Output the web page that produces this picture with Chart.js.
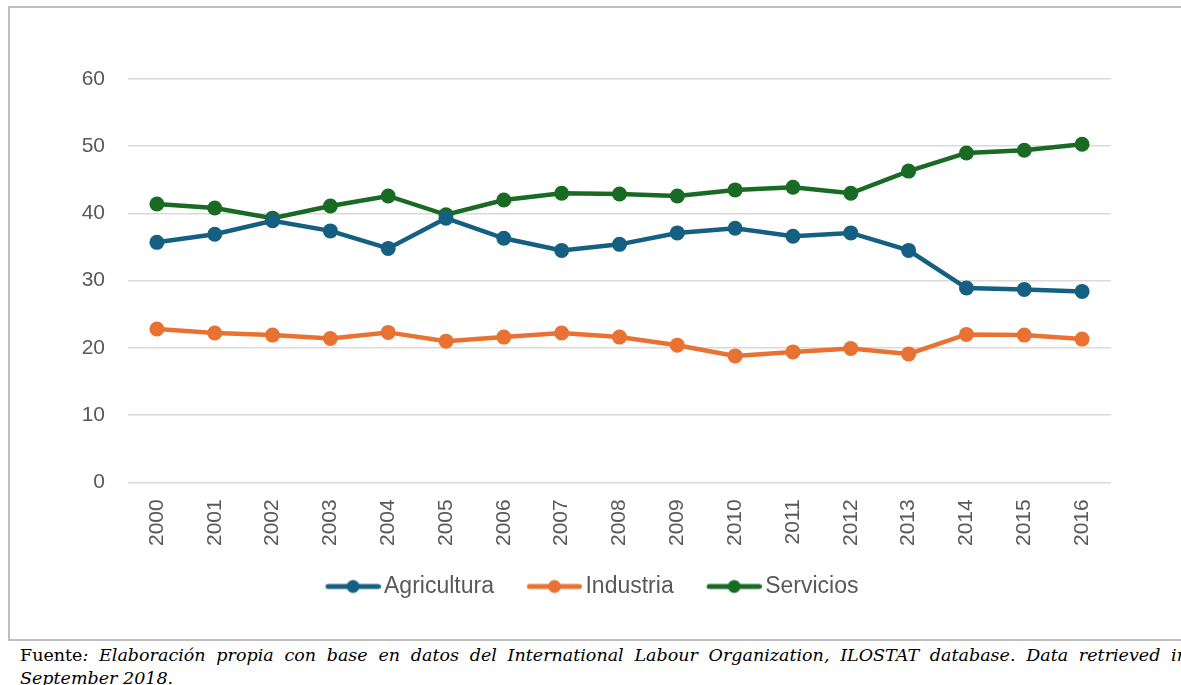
<!DOCTYPE html>
<html>
<head>
<meta charset="utf-8">
<script src="https://cdn.jsdelivr.net/npm/chart.js@4"></script>
<style>
  html, body { margin: 0; padding: 0; background: #fff; overflow: hidden; }
  body { width: 1181px; height: 685px; position: relative; }
  #frame {
    position: absolute; left: 8px; top: 6px; width: 1200px; height: 635px;
    border-top: 2px solid #bfbfbf; border-left: 2px solid #bfbfbf;
    border-bottom: 2px solid #bfbfbf; box-sizing: border-box;
  }
  #wrap { position: absolute; left: 0; top: 0; width: 1181px; height: 638px; }
  #note {
    position: absolute; left: 20px; top: 644px; width: 1168px;
    font-family: "DejaVu Serif", serif; font-size: 17.5px; line-height: 23px;
    text-align: justify; color: #000;
  }
  #note i { font-style: italic; }
</style>
</head>
<body>
<div id="frame"></div>
<div id="wrap"><canvas id="chart"></canvas></div>
<div id="note">Fuente<i>: Elaboración propia con base en datos del International Labour Organization, ILOSTAT database. Data retrieved in September 2018.</i></div>
<script>
// Employment share by sector (%), 2000-2016
const years = ['2000', '2001', '2002', '2003', '2004', '2005', '2006', '2007', '2008',
               '2009', '2010', '2011', '2012', '2013', '2014', '2015', '2016'];
const agricultura = [35.7, 36.9, 38.9, 37.4, 34.8, 39.3, 36.3, 34.5, 35.4, 37.1, 37.8, 36.6, 37.1, 34.5, 28.9, 28.7, 28.4];
const industria   = [22.8, 22.2, 21.9, 21.4, 22.3, 21.0, 21.6, 22.2, 21.6, 20.4, 18.8, 19.4, 19.9, 19.1, 22.0, 21.9, 21.3];
const servicios   = [41.4, 40.8, 39.3, 41.1, 42.6, 39.8, 42.0, 43.0, 42.9, 42.6, 43.5, 43.9, 43.0, 46.3, 49.0, 49.4, 50.3];
const yTicks = [0, 10, 20, 30, 40, 50, 60];

const COLORS = { agricultura: '#156082', industria: '#E97132', servicios: '#196B24' };
const TEXT = '#595959';
const FONT = 'Liberation Sans, Arial, sans-serif';

// legend marker: line with a dot, pushed to the right edge of a wider image
// so it sits close to its label and leaves room before the previous item
function legendMarker(color) {
    const c = document.createElement('canvas');
    c.width = 76; c.height = 16;
    const g = c.getContext('2d');
    g.strokeStyle = color; g.lineWidth = 5; g.lineCap = 'round';
    g.beginPath(); g.moveTo(23.5, 8); g.lineTo(73.5, 8); g.stroke();
    g.fillStyle = color;
    g.beginPath(); g.arc(48.5, 8, 6.5, 0, Math.PI * 2); g.fill();
    return c;
}

function series(label, data, color) {
    return {
        label, data,
        borderColor: color, backgroundColor: color,
        borderWidth: 4.5, pointRadius: 7.5, pointHoverRadius: 7.5,
        pointBorderWidth: 0, tension: 0,
    };
}

new Chart(document.getElementById('chart'), {
    type: 'line',
    data: {
        labels: years,
        datasets: [
            series('Agricultura', agricultura, COLORS.agricultura),
            series('Industria', industria, COLORS.industria),
            series('Servicios', servicios, COLORS.servicios),
        ],
    },
    options: {
        responsive: true,
        maintainAspectRatio: false,
        animation: false,
        layout: { padding: { left: 60, right: 70, top: 79, bottom: 30 } },
        plugins: {
            tooltip: { enabled: false },
            legend: {
                position: 'bottom',
                labels: {
                    color: TEXT,
                    font: { family: FONT, size: 23 },
                    usePointStyle: true,
                    pointStyleWidth: 60,
                    padding: 20,
                    generateLabels(chart) {
                        return chart.data.datasets.map((ds, i) => ({
                            text: ds.label,
                            fontColor: TEXT,
                            pointStyle: legendMarker(ds.borderColor),
                            datasetIndex: i,
                            hidden: false,
                            lineWidth: 0,
                            strokeStyle: 'transparent',
                            fillStyle: ds.borderColor,
                        }));
                    },
                },
            },
        },
        scales: {
            x: {
                offset: true,
                grid: { display: false },
                border: { display: false },
                ticks: {
                    color: TEXT, minRotation: 90, maxRotation: 90, padding: 9,
                    font: { family: FONT, size: 21 },
                },
            },
            y: {
                min: 0, max: 60,
                afterBuildTicks(axis) { axis.ticks = yTicks.map(v => ({ value: v })); },
                afterFit(axis) { axis.width = 68; },
                grid: { color: '#d9d9d9', lineWidth: 1.5, drawTicks: false },
                border: { display: false },
                ticks: {
                    color: TEXT, padding: 23,
                    font: { family: FONT, size: 21 },
                },
            },
        },
    },
});
</script>
</body>
</html>
